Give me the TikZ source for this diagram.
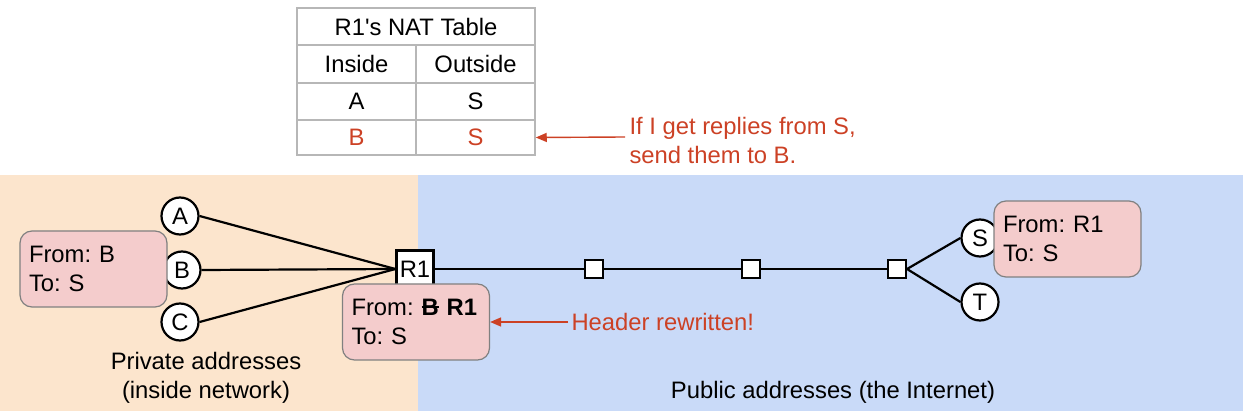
\documentclass[tikz,border=0pt]{standalone}
\usepackage{fontspec}
\setmainfont{Liberation Sans}[Ligatures=TeXOff]
\usetikzlibrary{arrows.meta}
\definecolor{orbg}{HTML}{FCE5CD}
\definecolor{blbg}{HTML}{C9DAF8}
\definecolor{pinkbox}{HTML}{F4CCCC}
\definecolor{redtxt}{HTML}{CC4125}
\definecolor{tgrey}{HTML}{B7B7B7}
\newsavebox{\strkbox}
\newcommand{\mystrk}[1]{\sbox{\strkbox}{#1}\rlap{\rule[0.32em]{\wd\strkbox}{1.8pt}}\usebox{\strkbox}}
\frenchspacing
\begin{document}
\begin{tikzpicture}[x=1pt,y=-1pt,
  every node/.style={font=\fontsize{23.8}{29}\selectfont},
  host/.style={circle,draw=black,line width=2.2pt,fill=white,minimum size=37pt,inner sep=0pt},
  router/.style={rectangle,draw=black,line width=2.2pt,fill=white,minimum size=37pt,inner sep=0pt},
  hop/.style={rectangle,draw=black,line width=2pt,fill=white,minimum size=18pt,inner sep=0pt},
  pkt/.style={rectangle,rounded corners=12pt,draw=black!50,line width=1.2pt,fill=pinkbox,minimum width=147pt,minimum height=76pt,align=left,text width=129pt,inner sep=0pt},
  link/.style={line width=2.2pt,black},
  note/.style={redtxt,-{Triangle[length=11pt,width=9pt]},line width=1.4pt},
  cell/.style={rectangle,draw=tgrey,line width=1.5pt,inner sep=0pt}]
\useasboundingbox (0,0) rectangle (1243,411);
% backgrounds
\fill[orbg] (0,175) rectangle (418,411);
\fill[blbg] (418,175) rectangle (1243,411);
% table
\node[cell,minimum width=238pt,minimum height=37pt] (th) at (416,26.5) {R1's NAT Table};
\node[cell,minimum width=119pt,minimum height=38pt] (ti) at (356.5,64) {Inside};
\node[cell,minimum width=119pt,minimum height=38pt] (to) at (475.5,64) {Outside};
\node[cell,minimum width=119pt,minimum height=37pt] (ta) at (356.5,101.5) {A};
\node[cell,minimum width=119pt,minimum height=37pt] (ts) at (475.5,101.5) {S};
\node[cell,minimum width=119pt,minimum height=35pt,text=redtxt] (tb) at (356.5,137.5) {B};
\node[cell,minimum width=119pt,minimum height=35pt,text=redtxt] (ts2) at (475.5,137.5) {S};
% note 1
\node[anchor=west,align=left,text=redtxt] (n1) at (626,140) {If I get replies from S,\\send them to B.};
\coordinate (n1s) at (625,137);
\draw[note] (n1s) -- (ts2.east);
% hosts
\node[host] (A) at (180,216) {A};
\node[host] (B) at (182,270) {B};
\node[host] (C) at (180,322) {C};
\node[router] (R1) at (415,269) {R1};
\node[hop] (h1) at (594,269) {};
\node[hop] (h2) at (751,269) {};
\node[hop] (h3) at (897,269) {};
\node[host] (S) at (980,238) {S};
\node[host] (T) at (980,302) {T};
% links
\draw[link] (A.east) -- (R1.west);
\draw[link] (B.east) -- (R1.west);
\draw[link] (C.east) -- (R1.west);
\draw[link] (R1.east) -- (h1) -- (h2) -- (h3);
\draw[link] (h3.east) -- (S.west);
\draw[link] (h3.east) -- (T.west);
\node[hop] at (h1) {};
\node[hop] at (h2) {};
\node[hop] at (h3) {};
% packets
\node[pkt] (p1) at (93.5,269) {From: B\\To: S};
\node[pkt] (p2) at (416,322) {From: \textbf{\mystrk{B}\ R1}\\To: S};
\node[pkt] (p3) at (1067.5,239) {From: R1\\To: S};
% note 2
\node[anchor=west,text=redtxt] (n2) at (568,322) {Header rewritten!};
\draw[note] (n2.west) -- (p2.east);
% region labels
\node[align=center] (priv) at (206,378) {Private addresses\\(inside network)};
\node (pub) at (833,392) {Public addresses (the Internet)};
\end{tikzpicture}
\end{document}
